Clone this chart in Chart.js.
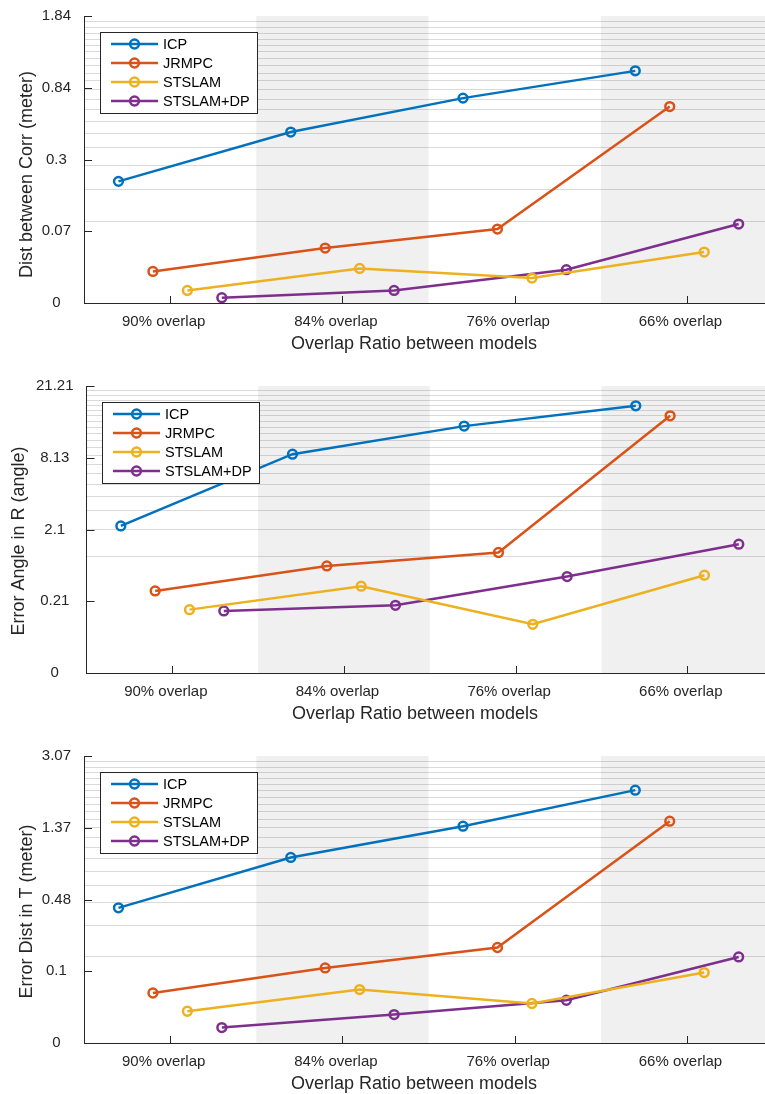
<!DOCTYPE html>
<html>
<head>
<meta charset="utf-8">
<script src="https://cdn.jsdelivr.net/npm/chart.js@4.4.1/dist/chart.umd.min.js"></script>
<style>
  html, body { margin: 0; padding: 0; background: #fff; overflow: hidden; }
  canvas { position: absolute; left: 0; }
</style>
</head>
<body>
<canvas id="corr" width="780" height="370" style="top:0px"></canvas>
<canvas id="angle" width="780" height="370" style="top:370px"></canvas>
<canvas id="trans" width="780" height="370" style="top:740px"></canvas>
<script>
// ---- data ----
const categories = ['90% overlap', '84% overlap', '76% overlap', '66% overlap'];
const methods = ['ICP', 'JRMPC', 'STSLAM', 'STSLAM+DP'];
const xTitle = 'Overlap Ratio between models';

// Dist between Corr (meter)
const corrTicks = [0, 0.07, 0.3, 0.84, 1.84];
const corrICP = [0.212, 0.468, 0.741, 1.032];
const corrJRMPC = [0.0125, 0.040, 0.0746, 0.666];
const corrSTSLAM = [0.0018, 0.0151, 0.0076, 0.0341];
const corrDP = [0.0003, 0.0018, 0.0140, 0.0855];

// Error Angle in R (angle)
const angleTicks = [0, 0.21, 2.1, 8.13, 21.21];
const angleICP = [2.28, 8.59, 12.84, 16.71];
const angleJRMPC = [0.328, 0.793, 1.175, 14.71];
const angleSTSLAM = [0.139, 0.395, 0.058, 0.588];
const angleDP = [0.130, 0.173, 0.561, 1.466];

// Error Dist in T (meter)
const transTicks = [0, 0.1, 0.48, 1.37, 3.07];
const transICP = [0.419, 0.933, 1.398, 2.152];
const transJRMPC = [0.0442, 0.1107, 0.191, 1.491];
const transSTSLAM = [0.0158, 0.0514, 0.0259, 0.0960];
const transDP = [0.0031, 0.0123, 0.0310, 0.1508];

// ---- look ----
const colors = ['#0072BD', '#D95319', '#EDB120', '#7E2F8E'];
const dodge = [-0.3, -0.1, 0.1, 0.3];   // each method sits a bit off the category centre
const axisColor = '#262626';
const bandColor = '#f0f0f0';
const gridColor = 'rgba(38,38,38,0.17)';
const FONT = '"Liberation Sans", Arial, Helvetica, sans-serif';

// the y axis is warped: tick labels are one unit apart, log-log interpolated in between
function makeWarp(ticks) {
  return function (v) {
    if (v <= 0) return 0;
    if (v <= ticks[1]) {
      const q = Math.log(2) / Math.log(ticks[2] / ticks[1]);
      return Math.pow(v / ticks[1], q);
    }
    let k = 1;
    while (k < ticks.length - 2 && v > ticks[k + 1]) k++;
    const q = Math.log((k + 1) / k) / Math.log(ticks[k + 1] / ticks[k]);
    return k * Math.pow(v / ticks[k], q);
  };
}

function decorations(cfg) {
  return {
    id: 'decor',
    beforeDraw(chart) {
      const { ctx, chartArea: a, scales: { x, y } } = chart;
      ctx.save();
      // shaded bands behind every other group
      ctx.fillStyle = bandColor;
      [1, 3].forEach(i => {
        const x0 = x.getPixelForValue(i - 0.5), x1 = x.getPixelForValue(i + 0.5);
        ctx.fillRect(x0, a.top, x1 - x0, a.bottom - a.top);
      });
      // horizontal grid every 1/20 of the top value
      ctx.strokeStyle = gridColor;
      ctx.lineWidth = 1;
      const top = cfg.ticks[cfg.ticks.length - 1];
      for (let n = 1; n < 20; n++) {
        const py = Math.round(y.getPixelForValue(cfg.warp(n * top / 20))) + 0.5;
        ctx.beginPath();
        ctx.moveTo(a.left, py);
        ctx.lineTo(x.getPixelForValue(3.5), py);
        ctx.stroke();
      }
      ctx.restore();
    },
    beforeDatasetsDraw(chart) {
      const { ctx, chartArea: a, scales: { x, y } } = chart;
      ctx.save();
      ctx.strokeStyle = axisColor;
      ctx.lineWidth = 1;
      // inward tick marks
      cfg.ticks.forEach((t, i) => {
        const py = Math.round(y.getPixelForValue(i)) + 0.5;
        ctx.beginPath(); ctx.moveTo(a.left, py); ctx.lineTo(a.left + 8, py); ctx.stroke();
      });
      categories.forEach((c, i) => {
        const px = Math.round(x.getPixelForValue(i)) + 0.5;
        ctx.beginPath(); ctx.moveTo(px, a.bottom); ctx.lineTo(px, a.bottom - 7); ctx.stroke();
      });
      // axis titles
      ctx.fillStyle = axisColor;
      ctx.font = '18px ' + FONT;
      ctx.textAlign = 'center';
      ctx.textBaseline = 'middle';
      ctx.fillText(xTitle, cfg.xTitleX, a.bottom + 41);
      ctx.translate(cfg.yTitleX, cfg.yTitleY);
      ctx.rotate(-Math.PI / 2);
      ctx.fillText(cfg.yTitle, 0, 0);
      ctx.restore();
    },
    afterDatasetsDraw(chart) {
      const { ctx, chartArea: a } = chart;
      const lx = Math.round(a.left + 15.5), ly = Math.round(a.top + 16);
      ctx.save();
      ctx.fillStyle = '#fff';
      ctx.fillRect(lx, ly, 157, 81);
      ctx.strokeStyle = axisColor;
      ctx.lineWidth = 1;
      ctx.strokeRect(lx + 0.5, ly + 0.5, 157, 81);
      methods.forEach((m, s) => {
        const cy = ly + 12 + 19 * s;
        ctx.strokeStyle = colors[s];
        ctx.lineWidth = 2.5;
        ctx.beginPath(); ctx.moveTo(lx + 11, cy); ctx.lineTo(lx + 58, cy); ctx.stroke();
        ctx.beginPath(); ctx.arc(lx + 34.5, cy, 4.4, 0, Math.PI * 2); ctx.stroke();
        ctx.fillStyle = '#000';
        ctx.font = '14.5px ' + FONT;
        ctx.textAlign = 'left';
        ctx.textBaseline = 'middle';
        ctx.fillText(m, lx + 63, cy + 0.5);
      });
      ctx.restore();
    }
  };
}

function buildPanel(id, cfg) {
  cfg.warp = makeWarp(cfg.ticks);
  const datasets = cfg.series.map((vals, s) => ({
    label: methods[s],
    data: vals.map((v, i) => ({ x: i + dodge[s], y: cfg.warp(v) })),
    borderColor: colors[s],
    backgroundColor: colors[s],
    borderWidth: 2.5,
    pointRadius: 4.4,
    pointBorderWidth: 2.5,
    pointBackgroundColor: 'rgba(0,0,0,0)',
    pointBorderColor: colors[s],
    tension: 0
  }));

  new Chart(document.getElementById(id), {
    type: 'line',
    data: { datasets },
    options: {
      responsive: false,
      animation: false,
      events: [],
      layout: { padding: { top: 16, right: cfg.rightPad, left: 0, bottom: 0 } },
      plugins: { legend: { display: false }, tooltip: { enabled: false } },
      scales: {
        x: {
          type: 'linear', min: -0.5, max: 3.5,
          afterBuildTicks: s => { s.ticks = categories.map((c, i) => ({ value: i })); },
          afterFit: s => { s.height = 67; s.paddingLeft = 0; s.paddingRight = 0; },
          grid: { display: false, drawTicks: false },
          border: { display: true, color: axisColor, width: 1 },
          ticks: {
            callback: v => categories[v],
            padding: 10, labelOffset: -6.5, autoSkip: false, maxRotation: 0,
            font: { family: FONT, size: 15 }, color: axisColor
          }
        },
        y: {
          type: 'linear', min: 0, max: 4,
          afterBuildTicks: s => { s.ticks = cfg.ticks.map((t, i) => ({ value: i })); },
          afterFit: s => { s.width = cfg.left; s.paddingTop = 0; s.paddingBottom = 0; },
          grid: { display: false, drawTicks: false },
          border: { display: true, color: axisColor, width: 1 },
          ticks: {
            callback: v => String(cfg.ticks[v]),
            padding: 13, crossAlign: 'center',
            font: { family: FONT, size: 15 }, color: axisColor
          }
        }
      }
    },
    plugins: [decorations(cfg)]
  });
}

buildPanel('corr', {
  ticks: corrTicks, series: [corrICP, corrJRMPC, corrSTSLAM, corrDP],
  yTitle: 'Dist between Corr (meter)', left: 84, rightPad: 4,
  xTitleX: 414, yTitleX: 27.5, yTitleY: 174.5
});
buildPanel('angle', {
  ticks: angleTicks, series: [angleICP, angleJRMPC, angleSTSLAM, angleDP],
  yTitle: 'Error Angle in R (angle)', left: 86.5, rightPad: 4.5,
  xTitleX: 415, yTitleX: 19.5, yTitleY: 171
});
buildPanel('trans', {
  ticks: transTicks, series: [transICP, transJRMPC, transSTSLAM, transDP],
  yTitle: 'Error Dist in T (meter)', left: 84, rightPad: 4,
  xTitleX: 414, yTitleX: 27.5, yTitleY: 171.5
});
</script>
</body>
</html>
